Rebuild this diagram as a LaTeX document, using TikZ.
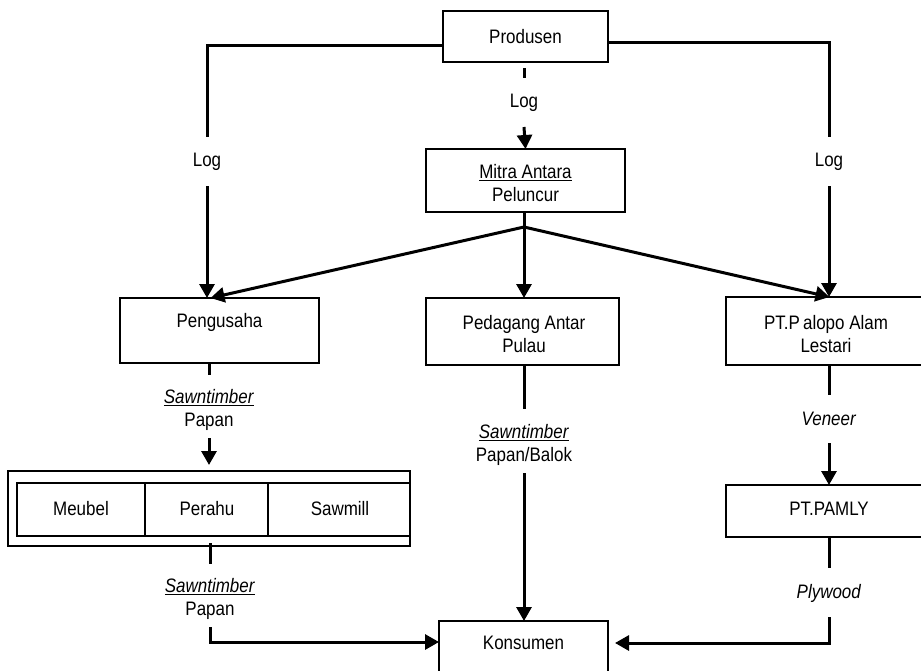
\documentclass[tikz,border=0pt]{standalone}
\usepackage{fontspec}
\setmainfont[FakeStretch=0.87]{Liberation Sans}
\usetikzlibrary{arrows.meta}
\begin{document}
\begin{tikzpicture}[x=1pt,y=-1pt,
  box/.style={draw, line width=1.6pt, inner sep=0pt, outer sep=0pt},
  txt/.style={inner sep=0pt, align=center, font=\fontsize{19.5}{23}\selectfont},
  flow/.style={line width=3pt},
  arr/.style={line width=3pt, -{Triangle[width=15pt,length=14pt]}}]
\useasboundingbox (0,0) rectangle (921,670);
% boxes
\node[box, minimum width=165pt, minimum height=51pt] (prod) at (525.5,36.5) {};
\node[txt] (prodT) at (525.5,36.5) {Produsen};
\node[box, minimum width=199pt, minimum height=63pt] (mitra) at (525.5,180.5) {};
\node[txt] (mitraT) at (525.5,183) {\underline{Mitra Antara}\\Peluncur};
\node[box, minimum width=199pt, minimum height=65pt] (peng) at (219.5,330.5) {};
\node[txt] (pengT) at (219.5,322) {Pengusaha};
\node[box, minimum width=193pt, minimum height=67pt] (peda) at (522.5,331.5) {};
\node[txt] (pedaT) at (524,334.5) {Pedagang Antar\\Pulau};
\node[box, minimum width=197pt, minimum height=68pt] (ptpal) at (824.5,331) {};
\node[txt] (ptpalT) at (826,334.5) {PT.P\,alopo Alam\\Lestari};
\node[box, minimum width=197pt, minimum height=52pt] (pamly) at (824.5,511) {};
\node[txt] (pamlyT) at (829,509) {PT.PAMLY};
\node[box, minimum width=402pt, minimum height=75pt] (outer) at (209,508.5) {};
\node[box, minimum width=128pt, minimum height=53pt] (meub) at (81,509.5) {};
\node[txt] (meubT) at (81,509) {Meubel};
\node[box, minimum width=123pt, minimum height=53pt] (perahu) at (206.5,509.5) {};
\node[txt] (perahuT) at (207,509) {Perahu};
\node[box, minimum width=142pt, minimum height=53pt] (sawmill) at (339,509.5) {};
\node[txt] (sawmillT) at (340,509) {Sawmill};
\node[box, minimum width=169pt, minimum height=70pt] (kons) at (523.5,656) {};
\node[txt] (konsT) at (523.5,643) {Konsumen};
% labels
\node[txt] (logL) at (207,162) {Log};
\node[txt] (logR) at (829,162) {Log};
\node[txt] (logC) at (524,103) {Log};
\node[txt] (sw1) at (209,410) {\underline{\textit{Sawntimber}}\\Papan};
\node[txt] (sw2) at (210,599) {\underline{\textit{Sawntimber}}\\Papan};
\node[txt] (sw3) at (524,445) {\underline{\textit{Sawntimber}}\\Papan/Balok};
\node[txt] (ven) at (829,419) {\textit{Veneer}};
\node[txt] (ply) at (829,593) {\textit{Plywood}};
% coordinates
\coordinate (pl) at (443,45);
\coordinate (lA) at (207,137);
\coordinate (lB) at (207,186);
\coordinate (pr) at (609,42);
\coordinate (rA) at (829,137);
\coordinate (rB) at (829,186);
\coordinate (cA) at (524,68);
\coordinate (cB) at (524,78);
\coordinate (cC) at (524,127);
\coordinate (mb) at (524,212);
\coordinate (fan) at (524,227);
\coordinate (p1) at (209,363);
\coordinate (p2) at (209,375);
\coordinate (p3) at (209,438);
\coordinate (p4) at (209,465);
\coordinate (o1) at (210,543);
\coordinate (o2) at (210,564);
\coordinate (o3) at (210,627);
\coordinate (o4) at (210,642);
\coordinate (d1) at (524,365);
\coordinate (d2) at (524,409);
\coordinate (d3) at (524,473);
\coordinate (t1) at (829,365);
\coordinate (t2) at (829,395);
\coordinate (t3) at (829,443);
\coordinate (y1) at (829,537);
\coordinate (y2) at (829,568);
\coordinate (y3) at (829,617);
\coordinate (y4) at (829,643);
% connectors
\draw[flow] (pl) -| (lA);
\draw[arr] (lB) -- (lB |- peng.north);
\draw[flow] (pr) -| (rA);
\draw[arr] (rB) -- (rB |- ptpal.north);
\draw[flow] (cA) -- (cB);
\draw[arr] (cC) -- (mitra.north);
\draw[flow] (mb) -- (fan);
\draw[arr] (fan) -- ([xshift=-9pt]peng.north);
\draw[arr] (fan) -- (fan |- peda.north);
\draw[arr] (fan) -- ([xshift=5pt]ptpal.north);
\draw[flow] (p1) -- (p2);
\draw[arr] (p3) -- (p4);
\draw[flow] (o1) -- (o2);
\draw[arr] (o3) -- (o4) -- (kons.west |- o4);
\draw[flow] (d1) -- (d2);
\draw[arr] (d3) -- (d3 |- kons.north);
\draw[flow] (t1) -- (t2);
\draw[arr] (t3) -- (t3 |- pamly.north);
\draw[flow] (y1) -- (y2);
\draw[arr] (y3) -- (y4) -- ([xshift=7pt]kons.east |- y4);
\end{tikzpicture}
\end{document}
